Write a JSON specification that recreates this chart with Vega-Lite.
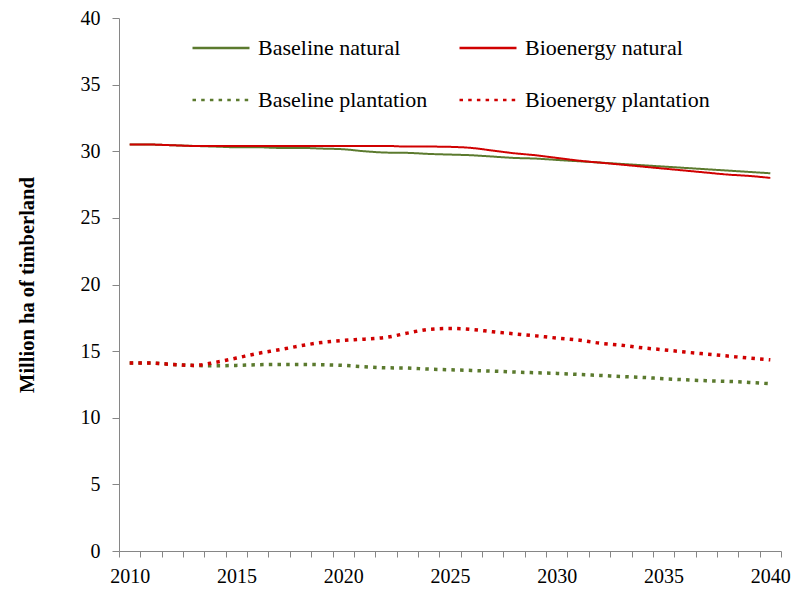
{
  "$schema": "https://vega.github.io/schema/vega-lite/v6.json",
  "width": 662,
  "height": 533,
  "autosize": "none",
  "padding": {"left": 119, "top": 18, "right": 27, "bottom": 38},
  "background": "white",
  "config": {
    "view": {"stroke": null},
    "font": "Liberation Serif",
    "axis": {"labelFont": "Liberation Serif", "titleFont": "Liberation Serif", "labelColor": "#000000", "titleColor": "#000000", "domainColor": "#868686", "tickColor": "#868686", "grid": false},
    "legend": {"labelFont": "Liberation Serif", "labelColor": "#000000"}
  },
  "data": {"values": [
    {"year": 2010, "series": "Baseline natural", "v": 30.5},
    {"year": 2011, "series": "Baseline natural", "v": 30.5},
    {"year": 2012, "series": "Baseline natural", "v": 30.45},
    {"year": 2013, "series": "Baseline natural", "v": 30.4},
    {"year": 2014, "series": "Baseline natural", "v": 30.35},
    {"year": 2015, "series": "Baseline natural", "v": 30.3},
    {"year": 2016, "series": "Baseline natural", "v": 30.3},
    {"year": 2017, "series": "Baseline natural", "v": 30.25},
    {"year": 2018, "series": "Baseline natural", "v": 30.25},
    {"year": 2019, "series": "Baseline natural", "v": 30.2},
    {"year": 2020, "series": "Baseline natural", "v": 30.15},
    {"year": 2021, "series": "Baseline natural", "v": 30.0},
    {"year": 2022, "series": "Baseline natural", "v": 29.9},
    {"year": 2023, "series": "Baseline natural", "v": 29.88},
    {"year": 2024, "series": "Baseline natural", "v": 29.8},
    {"year": 2025, "series": "Baseline natural", "v": 29.75},
    {"year": 2026, "series": "Baseline natural", "v": 29.7},
    {"year": 2027, "series": "Baseline natural", "v": 29.6},
    {"year": 2028, "series": "Baseline natural", "v": 29.5},
    {"year": 2029, "series": "Baseline natural", "v": 29.45},
    {"year": 2030, "series": "Baseline natural", "v": 29.35},
    {"year": 2031, "series": "Baseline natural", "v": 29.25},
    {"year": 2032, "series": "Baseline natural", "v": 29.15},
    {"year": 2033, "series": "Baseline natural", "v": 29.05},
    {"year": 2034, "series": "Baseline natural", "v": 28.95},
    {"year": 2035, "series": "Baseline natural", "v": 28.85},
    {"year": 2036, "series": "Baseline natural", "v": 28.75},
    {"year": 2037, "series": "Baseline natural", "v": 28.65},
    {"year": 2038, "series": "Baseline natural", "v": 28.55},
    {"year": 2039, "series": "Baseline natural", "v": 28.45},
    {"year": 2040, "series": "Baseline natural", "v": 28.35},
    {"year": 2010, "series": "Bioenergy natural", "v": 30.5},
    {"year": 2011, "series": "Bioenergy natural", "v": 30.5},
    {"year": 2012, "series": "Bioenergy natural", "v": 30.45},
    {"year": 2013, "series": "Bioenergy natural", "v": 30.4},
    {"year": 2014, "series": "Bioenergy natural", "v": 30.4},
    {"year": 2015, "series": "Bioenergy natural", "v": 30.4},
    {"year": 2016, "series": "Bioenergy natural", "v": 30.4},
    {"year": 2017, "series": "Bioenergy natural", "v": 30.4},
    {"year": 2018, "series": "Bioenergy natural", "v": 30.4},
    {"year": 2019, "series": "Bioenergy natural", "v": 30.4},
    {"year": 2020, "series": "Bioenergy natural", "v": 30.4},
    {"year": 2021, "series": "Bioenergy natural", "v": 30.4},
    {"year": 2022, "series": "Bioenergy natural", "v": 30.4},
    {"year": 2023, "series": "Bioenergy natural", "v": 30.35},
    {"year": 2024, "series": "Bioenergy natural", "v": 30.35},
    {"year": 2025, "series": "Bioenergy natural", "v": 30.33},
    {"year": 2026, "series": "Bioenergy natural", "v": 30.25},
    {"year": 2027, "series": "Bioenergy natural", "v": 30.05},
    {"year": 2028, "series": "Bioenergy natural", "v": 29.85},
    {"year": 2029, "series": "Bioenergy natural", "v": 29.7},
    {"year": 2030, "series": "Bioenergy natural", "v": 29.5},
    {"year": 2031, "series": "Bioenergy natural", "v": 29.3},
    {"year": 2032, "series": "Bioenergy natural", "v": 29.15},
    {"year": 2033, "series": "Bioenergy natural", "v": 29.0},
    {"year": 2034, "series": "Bioenergy natural", "v": 28.85},
    {"year": 2035, "series": "Bioenergy natural", "v": 28.7},
    {"year": 2036, "series": "Bioenergy natural", "v": 28.55},
    {"year": 2037, "series": "Bioenergy natural", "v": 28.4},
    {"year": 2038, "series": "Bioenergy natural", "v": 28.25},
    {"year": 2039, "series": "Bioenergy natural", "v": 28.15},
    {"year": 2040, "series": "Bioenergy natural", "v": 28.0},
    {"year": 2010, "series": "Baseline plantation", "v": 14.1},
    {"year": 2011, "series": "Baseline plantation", "v": 14.1},
    {"year": 2012, "series": "Baseline plantation", "v": 14.0},
    {"year": 2013, "series": "Baseline plantation", "v": 13.93},
    {"year": 2014, "series": "Baseline plantation", "v": 13.9},
    {"year": 2015, "series": "Baseline plantation", "v": 13.93},
    {"year": 2016, "series": "Baseline plantation", "v": 13.98},
    {"year": 2017, "series": "Baseline plantation", "v": 14.0},
    {"year": 2018, "series": "Baseline plantation", "v": 14.0},
    {"year": 2019, "series": "Baseline plantation", "v": 13.98},
    {"year": 2020, "series": "Baseline plantation", "v": 13.93},
    {"year": 2021, "series": "Baseline plantation", "v": 13.83},
    {"year": 2022, "series": "Baseline plantation", "v": 13.75},
    {"year": 2023, "series": "Baseline plantation", "v": 13.73},
    {"year": 2024, "series": "Baseline plantation", "v": 13.65},
    {"year": 2025, "series": "Baseline plantation", "v": 13.6},
    {"year": 2026, "series": "Baseline plantation", "v": 13.55},
    {"year": 2027, "series": "Baseline plantation", "v": 13.5},
    {"year": 2028, "series": "Baseline plantation", "v": 13.43},
    {"year": 2029, "series": "Baseline plantation", "v": 13.38},
    {"year": 2030, "series": "Baseline plantation", "v": 13.33},
    {"year": 2031, "series": "Baseline plantation", "v": 13.25},
    {"year": 2032, "series": "Baseline plantation", "v": 13.18},
    {"year": 2033, "series": "Baseline plantation", "v": 13.1},
    {"year": 2034, "series": "Baseline plantation", "v": 13.03},
    {"year": 2035, "series": "Baseline plantation", "v": 12.93},
    {"year": 2036, "series": "Baseline plantation", "v": 12.85},
    {"year": 2037, "series": "Baseline plantation", "v": 12.78},
    {"year": 2038, "series": "Baseline plantation", "v": 12.73},
    {"year": 2039, "series": "Baseline plantation", "v": 12.65},
    {"year": 2040, "series": "Baseline plantation", "v": 12.55},
    {"year": 2010, "series": "Bioenergy plantation", "v": 14.1},
    {"year": 2011, "series": "Bioenergy plantation", "v": 14.1},
    {"year": 2012, "series": "Bioenergy plantation", "v": 14.0},
    {"year": 2013, "series": "Bioenergy plantation", "v": 13.93},
    {"year": 2014, "series": "Bioenergy plantation", "v": 14.15},
    {"year": 2015, "series": "Bioenergy plantation", "v": 14.48},
    {"year": 2016, "series": "Bioenergy plantation", "v": 14.83},
    {"year": 2017, "series": "Bioenergy plantation", "v": 15.1},
    {"year": 2018, "series": "Bioenergy plantation", "v": 15.4},
    {"year": 2019, "series": "Bioenergy plantation", "v": 15.65},
    {"year": 2020, "series": "Bioenergy plantation", "v": 15.8},
    {"year": 2021, "series": "Bioenergy plantation", "v": 15.9},
    {"year": 2022, "series": "Bioenergy plantation", "v": 16.03},
    {"year": 2023, "series": "Bioenergy plantation", "v": 16.35},
    {"year": 2024, "series": "Bioenergy plantation", "v": 16.63},
    {"year": 2025, "series": "Bioenergy plantation", "v": 16.7},
    {"year": 2026, "series": "Bioenergy plantation", "v": 16.63},
    {"year": 2027, "series": "Bioenergy plantation", "v": 16.45},
    {"year": 2028, "series": "Bioenergy plantation", "v": 16.3},
    {"year": 2029, "series": "Bioenergy plantation", "v": 16.15},
    {"year": 2030, "series": "Bioenergy plantation", "v": 15.98},
    {"year": 2031, "series": "Bioenergy plantation", "v": 15.83},
    {"year": 2032, "series": "Bioenergy plantation", "v": 15.6},
    {"year": 2033, "series": "Bioenergy plantation", "v": 15.45},
    {"year": 2034, "series": "Bioenergy plantation", "v": 15.25},
    {"year": 2035, "series": "Bioenergy plantation", "v": 15.1},
    {"year": 2036, "series": "Bioenergy plantation", "v": 14.93},
    {"year": 2037, "series": "Bioenergy plantation", "v": 14.78},
    {"year": 2038, "series": "Bioenergy plantation", "v": 14.63},
    {"year": 2039, "series": "Bioenergy plantation", "v": 14.48},
    {"year": 2040, "series": "Bioenergy plantation", "v": 14.35}
  ]},
  "encoding": {
    "x": {
      "field": "year", "type": "ordinal",
      "scale": {"type": "band", "paddingInner": 0, "paddingOuter": 0},
      "axis": {"title": null, "labelAngle": 0, "tickBand": "extent", "labelExpr": "datum.value % 5 === 0 ? datum.label : ''", "labelOverlap": false, "labelFontSize": 20, "tickSize": 6, "labelPadding": 9, "labelFlush": false}
    },
    "y": {
      "field": "v", "type": "quantitative",
      "scale": {"domain": [0, 40], "nice": false},
      "axis": {"title": "Million ha of timberland", "values": [0, 5, 10, 15, 20, 25, 30, 35, 40], "labelFontSize": 20, "titleFontSize": 20.5, "titleFontWeight": "bold", "tickSize": 7, "labelPadding": 12, "titlePadding": 43}
    },
    "color": {
      "field": "series", "type": "nominal",
      "scale": {"domain": ["Baseline natural", "Baseline plantation", "Bioenergy natural", "Bioenergy plantation"], "range": ["#5B7A2E", "#5B7A2E", "#D00000", "#D00000"]},
      "legend": {"title": null, "orient": "none", "legendX": 72, "legendY": 0, "columns": 2, "columnPadding": 26, "rowPadding": 11, "labelFontSize": 22, "symbolType": "stroke", "symbolSize": 3249, "symbolStrokeWidth": 2.5, "labelOffset": 7, "labelLimit": 400}
    },
    "strokeDash": {
      "field": "series", "type": "nominal",
      "scale": {"domain": ["Baseline natural", "Baseline plantation", "Bioenergy natural", "Bioenergy plantation"], "range": [[1, 0], [3.5, 5.2], [1, 0], [3.5, 5.2]]},
      "legend": {"title": null, "orient": "none", "legendX": 72, "legendY": 0, "columns": 2, "columnPadding": 26, "rowPadding": 11, "labelFontSize": 22, "symbolType": "stroke", "symbolSize": 3249, "symbolStrokeWidth": 2.5, "labelOffset": 7, "labelLimit": 400}
    }
  },
  "layer": [
    {
      "transform": [{"filter": {"field": "series", "oneOf": ["Baseline natural", "Bioenergy natural"]}}],
      "mark": {"type": "line", "interpolate": "monotone", "strokeWidth": 2}
    },
    {
      "transform": [{"filter": {"field": "series", "oneOf": ["Baseline plantation", "Bioenergy plantation"]}}],
      "mark": {"type": "line", "interpolate": "monotone", "strokeWidth": 3.5}
    }
  ]
}
